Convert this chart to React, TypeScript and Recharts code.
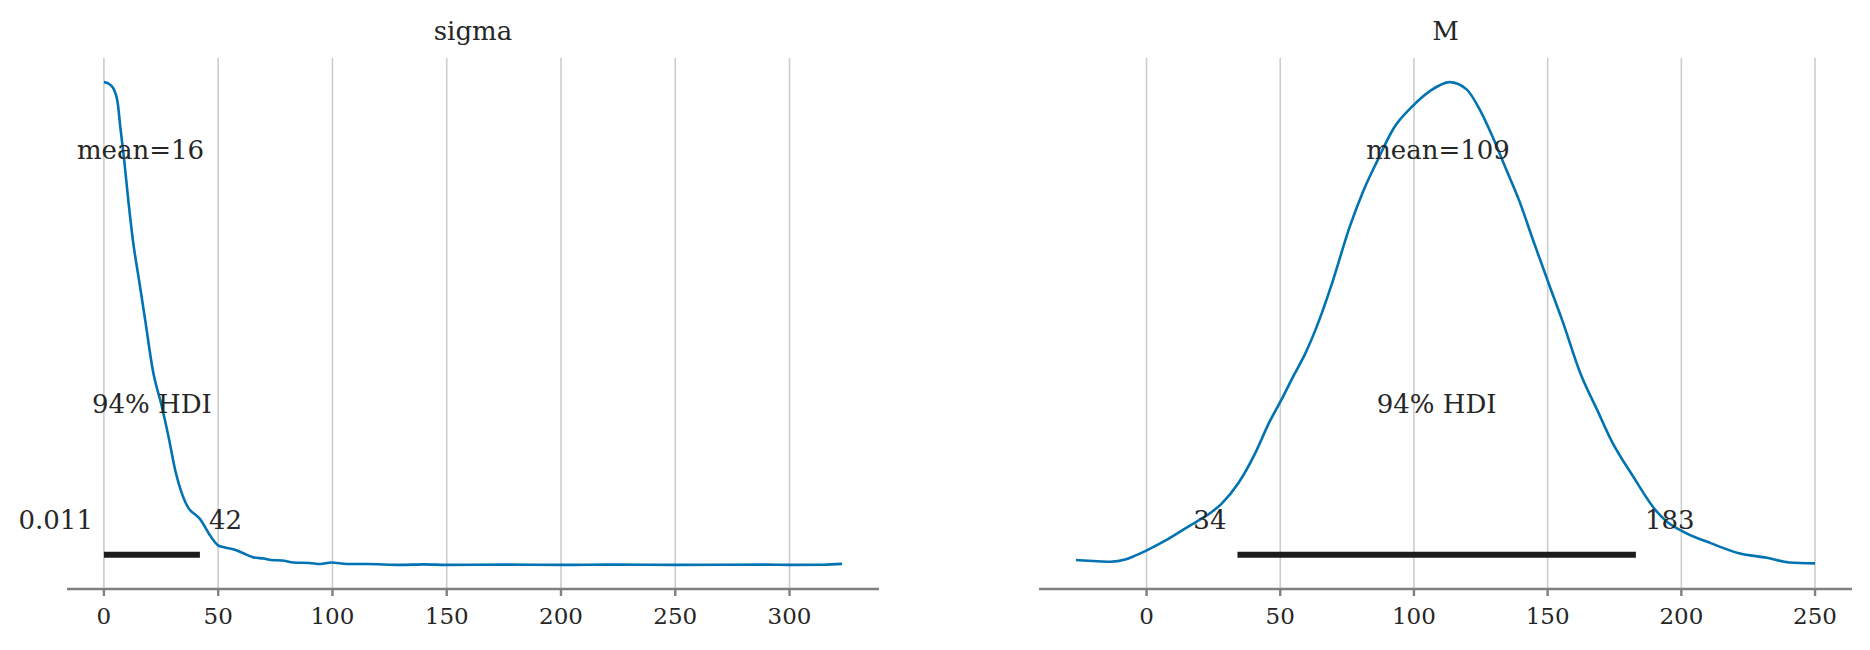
import React from 'react';
import { ComposedChart, Line, Scatter, XAxis, YAxis, ReferenceLine } from 'recharts';

// ---- sigma posterior (density normalised to peak = 1) ----
const sigmaX = [0, 2, 4, 6, 7.2, 8.75, 10.7, 12.7, 15.6, 18.1, 21.4, 25.4, 28.3, 31.2, 34.1, 37.1, 40, 41.9, 45.9, 49.8, 53, 57.6, 61, 65.4, 70, 73.2, 78, 83, 90, 94.7, 99.5, 106.4, 115, 129.8, 140, 150, 175, 200, 225, 250, 290, 300, 315, 323];
const sigmaDensity = [1.0, 0.997, 0.988, 0.958, 0.906, 0.844, 0.754, 0.672, 0.583, 0.506, 0.403, 0.327, 0.265, 0.196, 0.148, 0.117, 0.104, 0.096, 0.065, 0.041, 0.036, 0.031, 0.024, 0.0155, 0.013, 0.01, 0.009, 0.005, 0.004, 0.0017, 0.005, 0.0017, 0.0017, 0.0, 0.001, 0.0, 0.0005, 0.0, 0.0005, 0.0, 0.0005, 0.0, 0.0003, 0.002];
const sigmaTicks = [0, 50, 100, 150, 200, 250, 300];
const sigmaMean = 16;
const sigmaHdi = [0.011, 42];
const sigmaHdiText = ['0.011', '42'];

// ---- M posterior ----
const mX = [-26.4, -20, -13.5, -8, -5.2, 0.45, 7.3, 13.5, 19.8, 24, 28.1, 34.3, 40.6, 45.7, 51, 55, 59.3, 64.5, 69.7, 75.9, 81.1, 86.3, 92.6, 98.9, 106.1, 113.4, 119.7, 124.9, 129, 134.2, 139.4, 144.6, 150.9, 155.5, 162.3, 168.6, 173.8, 182.1, 190.4, 195, 200.8, 211.2, 221.6, 232, 240.3, 250];
const mDensity = [0.01, 0.008, 0.0065, 0.011, 0.0168, 0.031, 0.051, 0.072, 0.093, 0.108, 0.127, 0.169, 0.231, 0.293, 0.348, 0.392, 0.437, 0.506, 0.589, 0.699, 0.775, 0.837, 0.906, 0.947, 0.982, 1.0, 0.985, 0.94, 0.892, 0.823, 0.754, 0.672, 0.575, 0.506, 0.396, 0.32, 0.258, 0.182, 0.113, 0.088, 0.0685, 0.0445, 0.024, 0.0147, 0.005, 0.003];
const mTicks = [0, 50, 100, 150, 200, 250];
const mMean = 109;
const mHdi = [34, 183];
const mHdiText = ['34', '183'];

const titles = ['sigma', 'M'];
const hdiName = '94% HDI';

const FONT = '"DejaVu Serif", serif';
const TEXT = '#262626';
const BLUE = '#0173b2';
const H = 1.05; // upper y-limit (matplotlib 5% margins around [0, 1])

const LabelShape = (props: any) => {
  const { cx, cy, payload } = props;
  if (cx == null || cy == null) return null;
  const role = payload.role;
  const anchor = role === 'low' ? 'end' : role === 'high' ? 'start' : 'middle';
  const dx = role === 'low' ? -11 : role === 'high' ? 9 : 0;
  return (
    <text x={cx + dx} y={cy} textAnchor={anchor} fontFamily={FONT} fontSize={26} fill={TEXT}>
      {payload.text}
    </text>
  );
};

type PanelProps = {
  xs: number[];
  ys: number[];
  ticks: number[];
  mean: number;
  hdi: number[];
  hdiText: string[];
  left: number;
  marginLeft: number;
  marginRight: number;
};

const Panel = ({ xs, ys, ticks, mean, hdi, hdiText, left, marginLeft, marginRight }: PanelProps) => {
  const curve = xs.map((x, i) => ({ x, y: ys[i] }));
  const lo = Math.min(...xs);
  const hi = Math.max(...xs);
  const pad = (hi - lo) * 0.05;
  const bar = [
    { x: hdi[0], y: 0.02 * H },
    { x: hdi[1], y: 0.02 * H },
  ];
  const labels = [
    { x: mean, y: 0.8 * H, text: `mean=${mean}`, role: 'mean' },
    { x: (hdi[0] + hdi[1]) / 2, y: 0.3 * H, text: hdiName, role: 'mid' },
    { x: hdi[0], y: 0.07 * H, text: hdiText[0], role: 'low' },
    { x: hdi[1], y: 0.07 * H, text: hdiText[1], role: 'high' },
  ];
  return (
    <div style={{ position: 'absolute', left, top: 0 }}>
      <ComposedChart
        width={935}
        height={650}
        margin={{ top: 58, right: marginRight, bottom: 0, left: marginLeft }}
      >
        <XAxis
          dataKey="x"
          type="number"
          domain={[lo - pad, hi + pad]}
          ticks={ticks}
          interval={0}
          height={61}
          tickSize={7}
          tickMargin={12}
          axisLine={{ stroke: '#808080', strokeWidth: 2.4 }}
          tickLine={{ stroke: '#808080', strokeWidth: 2.4 }}
          tick={{ fill: TEXT, fontFamily: FONT, fontSize: 23 }}
        />
        <YAxis hide type="number" domain={[-0.05, 1.05]} />
        {ticks.map((t) => (
          <ReferenceLine key={t} x={t} stroke="#cccccc" strokeWidth={1.6} />
        ))}
        <Line
          data={curve}
          dataKey="y"
          type="monotone"
          stroke={BLUE}
          strokeWidth={2.6}
          dot={false}
          activeDot={false}
          isAnimationActive={false}
        />
        <Line
          data={bar}
          dataKey="y"
          type="linear"
          stroke="#1c1c1c"
          strokeWidth={6}
          strokeLinecap="butt"
          dot={false}
          activeDot={false}
          isAnimationActive={false}
        />
        <Scatter data={labels} dataKey="y" shape={LabelShape} isAnimationActive={false} />
      </ComposedChart>
    </div>
  );
};

export default function App() {
  return (
    <div style={{ position: 'absolute', left: 0, top: 0, width: 1870, height: 650, background: '#ffffff' }}>
      <Panel
        xs={sigmaX}
        ys={sigmaDensity}
        ticks={sigmaTicks}
        mean={sigmaMean}
        hdi={sigmaHdi}
        hdiText={sigmaHdiText}
        left={0}
        marginLeft={67}
        marginRight={56}
      />
      <Panel
        xs={mX}
        ys={mDensity}
        ticks={mTicks}
        mean={mMean}
        hdi={mHdi}
        hdiText={mHdiText}
        left={935}
        marginLeft={104}
        marginRight={18}
      />
      <svg width={1870} height={60} style={{ position: 'absolute', left: 0, top: 0 }}>
        <text x={473} y={40} textAnchor="middle" fontFamily={FONT} fontSize={26} fill={TEXT}>
          {titles[0]}
        </text>
        <text x={1445.5} y={40} textAnchor="middle" fontFamily={FONT} fontSize={26} fill={TEXT}>
          {titles[1]}
        </text>
      </svg>
    </div>
  );
}
